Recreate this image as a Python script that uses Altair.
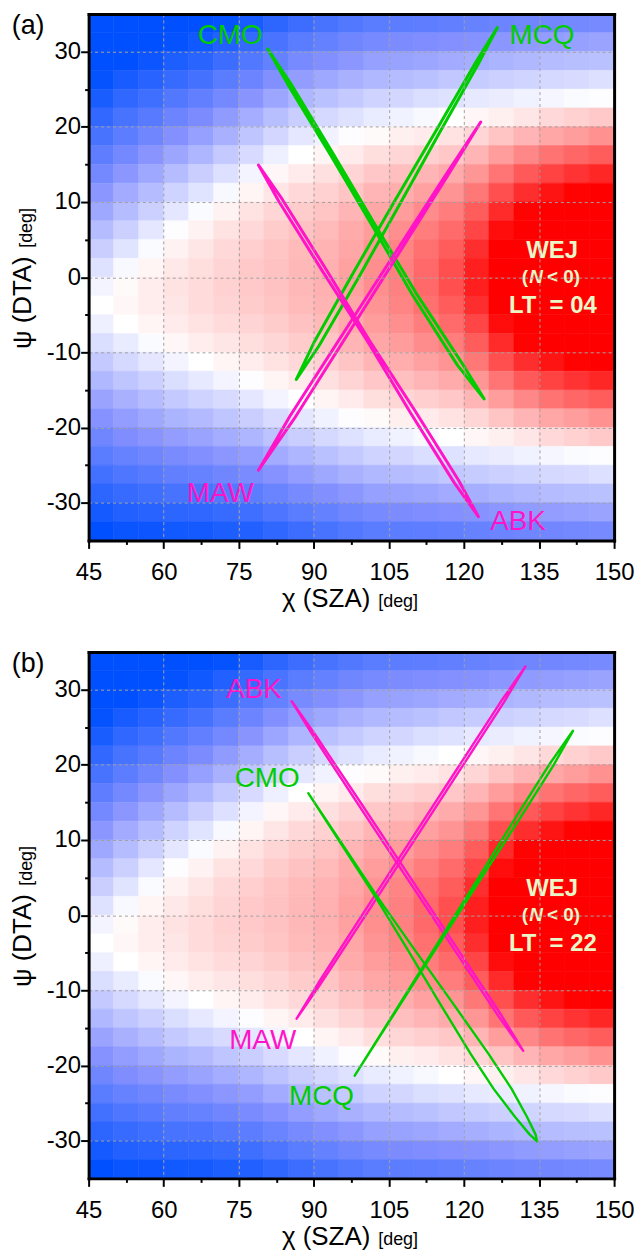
import altair as alt
import pandas as pd

FONT = "Liberation Sans"
GREEN = "#00cc00"
MAGENTA = "#ff14c8"
WEJ_COLOR = "#e8f6c8"

# ---------------- axes ----------------
x_ticks = [45, 52.5, 60, 67.5, 75, 82.5, 90, 97.5, 105, 112.5, 120, 127.5, 135, 142.5, 150]
y_ticks = [-30, -25, -20, -15, -10, -5, 0, 5, 10, 15, 20, 25, 30]

field_chi = [47.5, 52.5, 57.5, 62.5, 67.5, 72.5, 77.5, 82.5, 87.5, 92.5, 97.5,
             102.5, 107.5, 112.5, 117.5, 122.5, 127.5, 132.5, 137.5, 142.5, 147.5]
field_psi = [33.75, 31.25, 28.75, 26.25, 23.75, 21.25, 18.75, 16.25, 13.75, 11.25, 8.75, 6.25, 3.75, 1.25,
             -1.25, -3.75, -6.25, -8.75, -11.25, -13.75, -16.25, -18.75, -21.25, -23.75, -26.25, -28.75, -31.25, -33.75]
field_rows = [
    [-100, -100, -100, -100, -100, -98, -91, -83, -77, -73, -69, -66, -65, -64, -63, -61, -59, -58, -57, -56, -55],
    [-100, -100, -100, -98, -94, -87, -80, -72, -66, -62, -58, -55, -53, -52, -50, -49, -47, -45, -44, -43, -41],
    [-100, -100, -95, -89, -84, -77, -69, -62, -55, -51, -47, -43, -42, -40, -38, -36, -34, -32, -30, -29, -28],
    [-98, -91, -85, -79, -74, -66, -59, -51, -44, -39, -35, -32, -30, -28, -25, -23, -21, -19, -17, -16, -14],
    [-90, -82, -76, -69, -63, -56, -48, -40, -33, -28, -24, -20, -18, -15, -13, -10, -8, -6, -4, -2, -1],
    [-81, -73, -67, -59, -53, -45, -37, -29, -22, -17, -13, -9, -6, -3, 0, 3, 6, 10, 15, 18, 21],
    [-73, -65, -58, -50, -43, -35, -26, -18, -11, -6, -1, 2, 6, 8, 11, 16, 23, 29, 35, 39, 43],
    [-64, -56, -48, -40, -33, -24, -16, -7, 0, 4, 8, 13, 16, 19, 22, 29, 39, 47, 55, 60, 64],
    [-56, -47, -39, -30, -22, -14, -5, 3, 8, 12, 17, 22, 25, 29, 33, 41, 54, 65, 74, 80, 85],
    [-47, -38, -30, -20, -12, -3, 4, 10, 15, 18, 23, 29, 32, 37, 42, 53, 69, 82, 92, 99, 100],
    [-39, -30, -21, -11, -2, 5, 11, 16, 20, 23, 29, 35, 39, 45, 51, 64, 83, 99, 100, 100, 100],
    [-30, -21, -11, -1, 5, 11, 15, 20, 24, 27, 33, 39, 44, 51, 58, 73, 95, 100, 100, 100, 100],
    [-22, -12, -2, 5, 10, 15, 19, 23, 27, 30, 35, 42, 48, 56, 64, 82, 100, 100, 100, 100, 100],
    [-13, -3, 4, 9, 13, 17, 21, 24, 28, 31, 37, 44, 50, 59, 69, 88, 100, 100, 100, 100, 100],
    [-5, 2, 7, 11, 14, 18, 21, 24, 28, 31, 37, 44, 50, 59, 69, 88, 100, 100, 100, 100, 100],
    [0, 3, 7, 10, 14, 17, 20, 23, 27, 30, 35, 42, 48, 56, 64, 82, 100, 100, 100, 100, 100],
    [-7, 0, 4, 8, 11, 14, 17, 20, 24, 27, 33, 39, 44, 51, 58, 73, 95, 100, 100, 100, 100],
    [-15, -9, -2, 3, 7, 10, 13, 16, 20, 23, 29, 35, 39, 45, 51, 64, 83, 99, 100, 100, 100],
    [-24, -17, -11, -5, 0, 4, 7, 11, 15, 18, 23, 29, 32, 37, 42, 53, 69, 82, 92, 99, 100],
    [-32, -26, -21, -15, -10, -5, -1, 4, 8, 12, 17, 22, 25, 29, 33, 41, 54, 65, 74, 80, 85],
    [-41, -35, -30, -24, -20, -16, -11, -5, 0, 4, 8, 13, 16, 19, 22, 29, 39, 47, 55, 60, 64],
    [-49, -44, -39, -34, -31, -26, -22, -16, -11, -6, -1, 2, 6, 8, 11, 16, 23, 29, 35, 39, 43],
    [-58, -52, -48, -44, -41, -37, -33, -27, -22, -17, -13, -9, -6, -3, 0, 3, 6, 10, 15, 18, 21],
    [-66, -61, -58, -54, -51, -47, -44, -38, -33, -28, -24, -20, -18, -15, -13, -10, -8, -6, -4, -2, -1],
    [-75, -70, -67, -63, -61, -58, -54, -49, -44, -39, -35, -32, -30, -28, -25, -23, -21, -19, -17, -16, -14],
    [-83, -79, -76, -73, -72, -68, -65, -60, -55, -51, -47, -43, -42, -40, -38, -36, -34, -32, -30, -29, -28],
    [-92, -87, -85, -83, -82, -79, -76, -71, -66, -62, -58, -55, -53, -52, -50, -49, -47, -45, -44, -43, -41],
    [-100, -96, -95, -93, -92, -89, -87, -82, -77, -73, -69, -66, -65, -64, -63, -61, -59, -58, -57, -56, -55],
]

# ---------------- station loops, panel (a) LT = 04 ----------------
a_cmo_chi = [80.79, 85.36, 93.81, 102.06, 110.40, 119.53, 124.02, 118.69, 109.72, 101.56, 93.31, 84.86]
a_cmo_psi = [30.33, 25.77, 16.48, 7.18, -2.08, -11.35, -16.18, -11.69, -2.36, 6.98, 16.28, 25.57]
a_mcq_chi = [86.50, 91.04, 99.15, 107.11, 114.97, 122.91, 126.67, 122.39, 114.27, 106.07, 97.95, 90.00]
a_mcq_psi = [-13.60, -9.12, 0.20, 9.62, 19.04, 28.42, 33.20, 28.62, 19.30, 10.02, 0.66, -8.72]
a_maw_chi = [78.94, 85.18, 100.81, 116.53, 123.35, 116.87, 101.49, 86.02]
a_maw_psi = [-25.66, -18.52, -2.36, 13.77, 20.63, 13.63, -2.64, -18.88]
a_abk_chi = [78.94, 83.68, 92.47, 101.09, 110.12, 118.92, 122.89, 118.08, 109.28, 100.75, 91.79, 83.00]
a_abk_psi = [14.90, 10.37, 1.02, -8.40, -17.65, -27.00, -31.84, -27.35, -17.99, -8.54, 0.74, 10.09]

# ---------------- station loops, panel (b) LT = 22 ----------------
b_abk_chi = [85.57, 90.40, 99.70, 108.95, 118.21, 127.45, 131.84, 126.95, 117.71, 108.45, 99.20, 90.00]
b_abk_psi = [28.44, 23.88, 14.61, 5.31, -3.99, -13.28, -18.04, -13.50, -4.21, 5.09, 14.39, 23.70]
b_maw_chi = [86.56, 91.33, 100.53, 109.68, 118.82, 127.97, 132.29, 127.47, 118.32, 109.18, 100.03, 90.93]
b_maw_psi = [-13.76, -9.17, 0.18, 9.55, 18.91, 28.28, 33.07, 28.50, 19.13, 9.77, 0.40, -8.99]
b_cmo_chi = [88.89, 102.41, 108.77, 115.03, 121.40, 125.97, 130.22, 133.11, 134.62,
             134.30, 132.61, 129.55, 124.98, 117.62, 110.16, 102.81]
b_cmo_psi = [16.22, 2.33, -4.62, -11.56, -18.51, -23.13, -26.84, -29.15, -30.08,
             -29.15, -26.84, -23.13, -18.51, -11.56, -4.62, 2.33]
b_mcq_chi = [98.17, 111.33, 122.36, 131.22, 137.76, 141.78, 137.08, 130.54, 121.96, 111.17]
b_mcq_psi = [-21.35, -7.63, 3.79, 12.91, 19.78, 24.51, 20.06, 13.19, 3.96, -7.56]

# ---------------- station name labels ----------------
a_label_name = ["CMO", "MCQ", "MAW", "ABK"]
a_label_chi = [73.3, 135.6, 71.3, 130.8]
a_label_psi = [31.0, 31.0, -29.85, -33.6]
b_label_name = ["ABK", "CMO", "MAW", "MCQ"]
b_label_chi = [78.05, 80.67, 79.78, 91.53]
b_label_psi = [28.88, 17.1, -17.86, -25.2]
station_color = {"CMO": GREEN, "MCQ": GREEN, "MAW": MAGENTA, "ABK": MAGENTA}

# WEJ annotation (chi, psi of each text line)
wej_chi = 137.6
wej_psi = [2.55, -0.75, -4.72]
panel_lt = {"a": "04", "b": "22"}

W, H = 528, 529

xs = alt.Scale(domain=[45, 150], nice=False, zero=False)
ys = alt.Scale(domain=[-35, 35], nice=False, zero=False)
cs = alt.Scale(domain=[-100, -50, 0, 100], range=["#0050ff", "#8490ff", "#ffffff", "#ff0000"],
               interpolate="rgb", clamp=True)

MX = "datum.value % 15 === 0"
MY = "datum.value % 10 === 0"
xa = alt.Axis(
    values=x_ticks, title=None, grid=True, zindex=1, orient="bottom",
    domain=True, domainWidth=3, domainColor="black", domainCap="square",
    labelExpr=f"({MX}) ? toString(datum.value) : ''",
    tickSize={"condition": {"test": f"!({MX})", "value": 4}, "value": 8},
    gridOpacity={"condition": {"test": f"!({MX})", "value": 0}, "value": 1},
    labelPadding=12, labelFlush=False, labelOverlap=False,
)
ya = alt.Axis(
    values=y_ticks, title=None, grid=True, zindex=1, orient="left",
    domain=True, domainWidth=3, domainColor="black", domainCap="square",
    labelExpr=f"({MY}) ? (datum.value < 0 ? '-' + toString(abs(datum.value)) : toString(datum.value)) : ''",
    tickSize={"condition": {"test": f"!({MY})", "value": 4}, "value": 8},
    gridOpacity={"condition": {"test": f"!({MY})", "value": 0}, "value": 1},
    labelPadding=0, labelFlush=False, labelOverlap=False,
)
# frame on the top and right sides
xa_top = alt.Axis(orient="top", title=None, labels=False, ticks=False, grid=False, zindex=1,
                  domain=True, domainWidth=3, domainColor="black", domainCap="square")
ya_right = alt.Axis(orient="right", title=None, labels=False, ticks=False, grid=False, zindex=1,
                    domain=True, domainWidth=3, domainColor="black", domainCap="square")

heat_records = []
for i, p in enumerate(field_psi):
    for j, c in enumerate(field_chi):
        heat_records.append({"c0": c - 2.5, "c1": c + 2.5, "p0": p - 1.25, "p1": p + 1.25, "v": field_rows[i][j]})
heat_df = pd.DataFrame(heat_records)


def loop_layer(chi, psi, color, sw):
    df = pd.DataFrame({"chi": chi, "psi": psi, "i": list(range(len(chi)))})
    return alt.Chart(df).mark_line(color=color, strokeWidth=sw, interpolate="linear-closed",
                                   strokeJoin="round").encode(
        x=alt.X("chi:Q", scale=xs, axis=None),
        y=alt.Y("psi:Q", scale=ys, axis=None),
        order=alt.Order("i:Q"),
    )


def text_at(chi, psi, txt, color, size, weight="normal", style="normal", align="center", dx=0,
            xaxis=None, yaxis=None):
    df = pd.DataFrame({"chi": [chi], "psi": [psi], "t": [txt]})
    return alt.Chart(df).mark_text(color=color, fontSize=size, fontWeight=weight, fontStyle=style,
                                   align=align, baseline="alphabetic", dx=dx).encode(
        x=alt.X("chi:Q", scale=xs, axis=xaxis),
        y=alt.Y("psi:Q", scale=ys, axis=yaxis),
        text="t:N",
    )


def text_px(px, py, txt, size, align="left", angle=0):
    df = pd.DataFrame({"t": [txt]})
    kw = {}
    if angle:
        kw["angle"] = angle
    return alt.Chart(df).mark_text(color="black", fontSize=size, align=align, baseline="alphabetic", **kw).encode(
        x=alt.value(px), y=alt.value(py), text="t:N")


def panel(tag, loops, names, lchi, lpsi, sw):
    heat = alt.Chart(heat_df).mark_rect(strokeWidth=0.6).encode(
        x=alt.X("c0:Q", scale=xs, axis=xa), x2="c1:Q",
        y=alt.Y("p0:Q", scale=ys, axis=ya), y2="p1:Q",
        color=alt.Color("v:Q", scale=cs, legend=None),
        stroke=alt.Stroke("v:Q", scale=cs, legend=None),
    )
    layers = [heat]
    for chi, psi, col in loops:
        layers.append(loop_layer(chi, psi, col, sw))
    for n, c, p in zip(names, lchi, lpsi):
        layers.append(text_at(c, p, n, station_color[n], 28))
    # WEJ annotation (this layer also carries the top / right frame lines)
    layers.append(text_at(wej_chi, wej_psi[0], "WEJ", WEJ_COLOR, 24, weight="bold",
                          xaxis=xa_top, yaxis=ya_right))
    layers.append(text_at(wej_chi, wej_psi[1], "(", WEJ_COLOR, 19, weight="bold", align="right", dx=-24))
    layers.append(text_at(wej_chi, wej_psi[1], "N", WEJ_COLOR, 19, weight="bold", style="italic", dx=-16))
    layers.append(text_at(wej_chi, wej_psi[1], "< 0)", WEJ_COLOR, 19, weight="bold", align="left", dx=-5))
    layers.append(text_at(wej_chi + 0.15, wej_psi[2], "LT\u00a0\u00a0=\u00a0" + panel_lt[tag], WEJ_COLOR, 24,
                          weight="bold"))
    # axis titles and panel tag
    layers.append(text_px(283, H + 67, "\u03c7 (SZA)", 26, align="right"))
    layers.append(text_px(291, H + 67, "[deg]", 18, align="left"))
    layers.append(text_px(-57.6, 243.5, "\u03c8 (DTA)", 26, align="right", angle=270))
    layers.append(text_px(-57.3, 235, "[deg]", 18, align="left", angle=270))
    layers.append(text_px(-77.3, 20, f"({tag})", 27, align="left"))
    return alt.layer(*layers).resolve_axis(x="independent", y="independent").properties(width=W, height=H)


pa = panel("a",
           [(a_cmo_chi, a_cmo_psi, GREEN), (a_mcq_chi, a_mcq_psi, GREEN),
            (a_maw_chi, a_maw_psi, MAGENTA), (a_abk_chi, a_abk_psi, MAGENTA)],
           a_label_name, a_label_chi, a_label_psi, 3.0)
pb = panel("b",
           [(b_abk_chi, b_abk_psi, MAGENTA), (b_maw_chi, b_maw_psi, MAGENTA),
            (b_cmo_chi, b_cmo_psi, GREEN), (b_mcq_chi, b_mcq_psi, GREEN)],
           b_label_name, b_label_chi, b_label_psi, 2.4)

chart = alt.vconcat(pa, pb, spacing=36).properties(
    padding={"left": 1, "top": 0, "right": 0, "bottom": 0}
).configure(font=FONT).configure_view(stroke="transparent").configure_axis(
    labelFont=FONT, labelFontSize=24, labelColor="black", tickColor="black", tickWidth=2,
    gridColor="#a0a0a0", gridDash=[3, 3], gridWidth=1,
)

chart.save("out.html", embed_options={"renderer": "svg", "actions": False})
